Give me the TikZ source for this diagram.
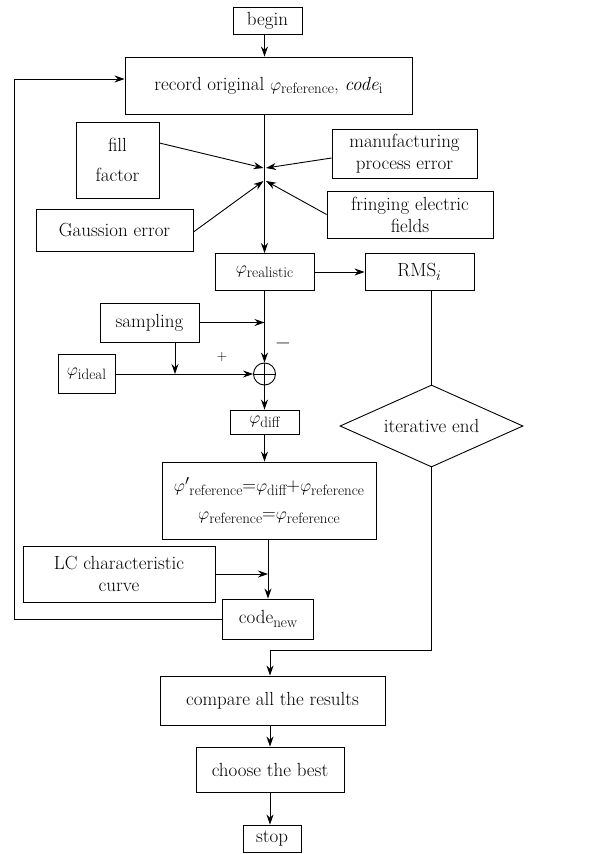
\documentclass[tikz,border=0pt]{standalone}
\usetikzlibrary{arrows.meta,shapes.geometric}
\newcommand{\lowtxt}[1]{\raisebox{-0.45ex}{\fontsize{15}{15}\selectfont #1}}
\begin{document}
\begin{tikzpicture}[x=1pt,y=-1pt,line width=0.9pt,>={Stealth[length=10pt,width=7pt]},
    every node/.style={font=\fontsize{19}{22}\selectfont},
    box/.style={draw,inner sep=0pt,align=center}]
    \useasboundingbox (0,0) rectangle (594,854);
    \node [box, minimum width=69, minimum height=27] (begin) at (267.5,20.5) {begin};
    \node [box, minimum width=287, minimum height=57] (record) at (268.5,85.5) {record original $\varphi$\lowtxt{reference}, \textit{code}\lowtxt{i}};
    \node [box, minimum width=83, minimum height=76, font=\fontsize{19}{30}\selectfont] (fill) at (117.5,160) {fill\\factor};
    \node [box, minimum width=145, minimum height=49] (mfg) at (404.5,153.5) {manufacturing\\process error};
    \node [box, minimum width=166, minimum height=47] (fringe) at (410,214.5) {fringing electric\\fields};
    \node [box, minimum width=157, minimum height=42] (gauss) at (114.5,230) {Gaussion error};
    \coordinate (c1) at (264.5,168);
    \coordinate (c2) at (264.5,181);
    \node [box, minimum width=99, minimum height=37] (real) at (264.5,272) {$\varphi$\lowtxt{realistic}};
    \node [box, minimum width=109, minimum height=37] (rms) at (419.5,272) {RMS$_i$};
    \node [box, minimum width=99, minimum height=39] (samp) at (149.5,322.5) {sampling};
    \node [draw, circle, minimum size=22, inner sep=0pt] (sum) at (264.5,374) {};
    \node (minus) at (283,346) {\fontsize{22}{22}\selectfont\textbf{--}};
    \node (plus) at (222,357) {\fontsize{14}{14}\selectfont +};
    \node [box, minimum width=57, minimum height=39] (ideal) at (86.5,374) {$\varphi$\lowtxt{ideal}};
    \coordinate (tap) at (175,374);
    \node [box, minimum width=69, minimum height=24] (diff) at (264.5,422) {$\varphi$\lowtxt{diff}};
    \node [draw, diamond, aspect=2.2, minimum width=183, minimum height=82, inner sep=0pt] (iter) at (431.5,426) {iterative end};
    \node [box, minimum width=214, minimum height=77, font=\fontsize{19}{28}\selectfont] (upd) at (269,500.5) {$\varphi'$\lowtxt{reference}=$\varphi$\lowtxt{diff}+$\varphi$\lowtxt{reference}\\$\varphi$\lowtxt{reference}=$\varphi$\lowtxt{reference}};
    \node [box, minimum width=192, minimum height=56] (lc) at (119,574) {LC characteristic\\curve};
    \node [box, minimum width=91, minimum height=40] (new) at (268,619) {code\lowtxt{new}};
    \coordinate (merge) at (270,650);
    \node [box, minimum width=225, minimum height=49] (cmp) at (272.5,700.5) {compare all the results};
    \node [box, minimum width=148, minimum height=45] (best) at (270,769.5) {choose the best};
    \node [box, minimum width=58, minimum height=27] (stop) at (272,838.5) {stop};
    \draw [->] (record.north -| real.north) ++(0,-23) -- (record.north -| real.north);
    \draw [->] (record.south -| real.north) -- (real.north);
    \draw [->] ([yshift=17pt]fill.east) -- ([xshift=-1pt]c1);
    \draw [->] ([yshift=-4.5pt]mfg.west) -- ([xshift=1.5pt]c1);
    \draw [->] ([yshift=-2pt]gauss.east) -- ([xshift=-1pt]c2);
    \draw [->] (fringe.west) -- ([xshift=1.5pt]c2);
    \draw [->] (real.east) -- (rms.west);
    \draw [->] (real.south) -- (sum.north);
    \draw [->] (samp.east) -- (samp.east -| sum.north);
    \draw [->] (ideal.east) -- (sum.west);
    \draw [->] (samp.south -| tap) -- (tap);
    \draw (sum.north) -- (sum.south) (sum.west) -- (sum.east);
    \draw [->] (sum.south) -- (diff.north);
    \draw [->] (diff.south) -- (diff.south |- upd.north);
    \draw [->] (upd.south -| new.north) -- (new.north);
    \draw [->] (lc.east) -- (lc.east -| new.north);
    \draw [->] (new.west) -- ++(-208,0) |- ([yshift=6.5pt]record.west);
    \draw (rms.south -| iter.north) -- (iter.north);
    \draw (iter.south) |- (merge);
    \draw [->] (merge) -- (merge |- cmp.north);
    \draw [->] (cmp.south -| best.north) -- (best.north);
    \draw [->] (best.south) -- (best.south |- stop.north);
\end{tikzpicture}
\end{document}
